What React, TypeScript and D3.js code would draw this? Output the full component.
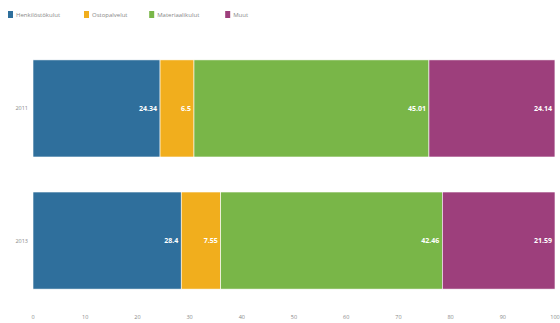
import React from "react";
import * as d3 from "d3";

const years = ["2011", "2013"];
const seriesNames = ["Henkilöstökulut", "Ostopalvelut", "Materiaalikulut", "Muut"];
const series2011 = [24.34, 6.5, 45.01, 24.14];
const series2013 = [28.4, 7.55, 42.46, 21.59];
const xTicks = [0, 10, 20, 30, 40, 50, 60, 70, 80, 90, 100];
const colors = ["#2f6f9c", "#f1ae1d", "#79b648", "#9d3f7c"];

const W = 560;
const H = 323;

export default function App() {
  const x = d3.scaleLinear().domain([0, 100]).range([33, 555]);
  const y = d3.scaleBand<string>().domain(years).range([48, 301]).paddingInner(0.265).paddingOuter(0.09);
  const rows = [series2011, series2013];
  const stacked = rows.map((vals) => {
    let acc = 0;
    return vals.map((v) => {
      const s = acc;
      acc += v;
      return [s, acc] as [number, number];
    });
  });
  const fmt = (v: number) => String(v).replace(".", ",") && String(v);
  let lx = 8;
  const legendItems = seriesNames.map((n, i) => {
    const item = { n, i, x: lx };
    lx += 12 + n.length * 3.6 + 10;
    return item;
  });
  return (
    <svg width={W} height={H} style={{ position: "absolute", left: 0, top: 0, fontFamily: "Open Sans, sans-serif" }}>
      <rect width={W} height={H} fill="#fff" />
      {legendItems.map((it) => (
        <g key={it.n} transform={`translate(${it.x},11)`}>
          <rect width={5} height={7} fill={colors[it.i]} />
          <text x={8} y={6} fontSize={6} fill="#888">{it.n}</text>
        </g>
      ))}
      {years.map((yr, r) => (
        <g key={yr}>
          <text x={28} y={(y(yr) as number) + y.bandwidth() / 2 + 2} fontSize={5.5} fill="#888" textAnchor="end">{yr}</text>
          {stacked[r].map(([a, b], i) => (
            <g key={i}>
              <rect x={x(a)} y={y(yr)} width={x(b) - x(a)} height={y.bandwidth()} fill={colors[i]} stroke="#fff" strokeWidth={0.6} />
              <text x={x(b) - 3} y={(y(yr) as number) + y.bandwidth() / 2 + 2.5} fontSize={7} fontWeight="bold" fill="#fff" textAnchor="end">{fmt(rows[r][i])}</text>
            </g>
          ))}
        </g>
      ))}
      {xTicks.map((t) => (
        <text key={t} x={x(t)} y={319} fontSize={5.5} fill="#888" textAnchor="middle">{t}</text>
      ))}
    </svg>
  );
}
